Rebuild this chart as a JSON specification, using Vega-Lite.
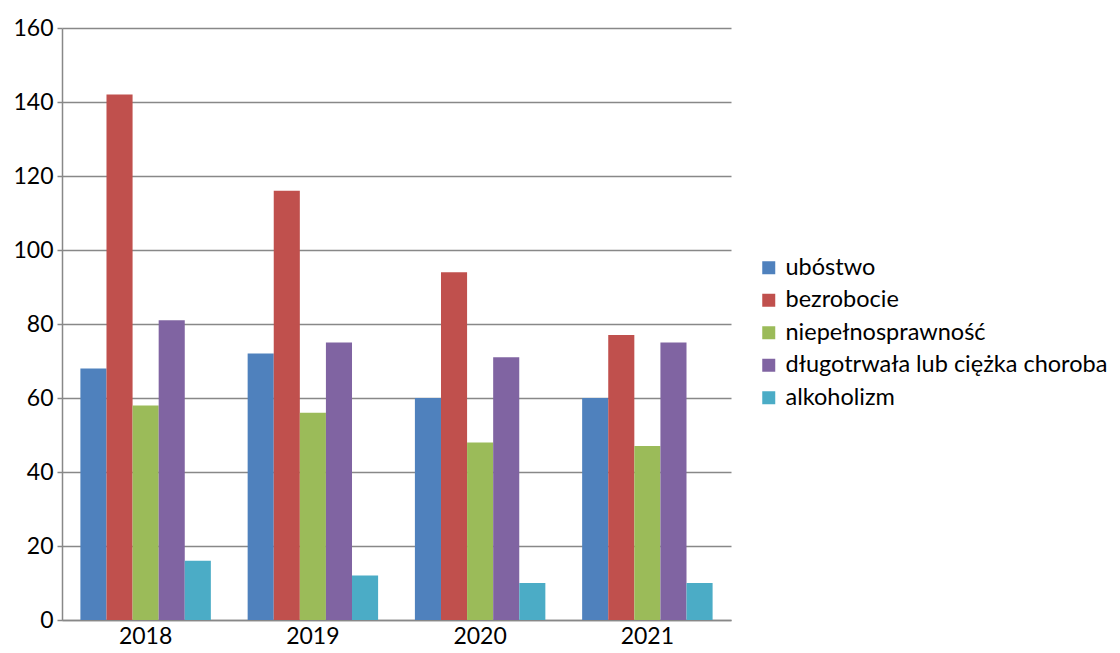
{
  "$schema": "https://vega.github.io/schema/vega-lite/v6.json",
  "width": 669,
  "height": 592,
  "autosize": "none",
  "padding": {"left": 62, "top": 28, "right": 389, "bottom": 33},
  "background": "white",
  "config": {
    "font": "Lato",
    "view": {"stroke": null}
  },
  "data": {
    "values": [
      {"rok": "2018", "kategoria": "ubóstwo", "wartosc": 68},
      {"rok": "2018", "kategoria": "bezrobocie", "wartosc": 142},
      {"rok": "2018", "kategoria": "niepełnosprawność", "wartosc": 58},
      {"rok": "2018", "kategoria": "długotrwała lub ciężka choroba", "wartosc": 81},
      {"rok": "2018", "kategoria": "alkoholizm", "wartosc": 16},
      {"rok": "2019", "kategoria": "ubóstwo", "wartosc": 72},
      {"rok": "2019", "kategoria": "bezrobocie", "wartosc": 116},
      {"rok": "2019", "kategoria": "niepełnosprawność", "wartosc": 56},
      {"rok": "2019", "kategoria": "długotrwała lub ciężka choroba", "wartosc": 75},
      {"rok": "2019", "kategoria": "alkoholizm", "wartosc": 12},
      {"rok": "2020", "kategoria": "ubóstwo", "wartosc": 60},
      {"rok": "2020", "kategoria": "bezrobocie", "wartosc": 94},
      {"rok": "2020", "kategoria": "niepełnosprawność", "wartosc": 48},
      {"rok": "2020", "kategoria": "długotrwała lub ciężka choroba", "wartosc": 71},
      {"rok": "2020", "kategoria": "alkoholizm", "wartosc": 10},
      {"rok": "2021", "kategoria": "ubóstwo", "wartosc": 60},
      {"rok": "2021", "kategoria": "bezrobocie", "wartosc": 77},
      {"rok": "2021", "kategoria": "niepełnosprawność", "wartosc": 47},
      {"rok": "2021", "kategoria": "długotrwała lub ciężka choroba", "wartosc": 75},
      {"rok": "2021", "kategoria": "alkoholizm", "wartosc": 10}
    ]
  },
  "mark": {"type": "bar"},
  "encoding": {
    "x": {
      "field": "rok",
      "type": "nominal",
      "scale": {"paddingInner": 0.22, "paddingOuter": 0.11},
      "axis": {
        "title": null,
        "labelAngle": 0,
        "labelFontSize": 23,
        "labelColor": "#000000",
        "labelPadding": 5,
        "ticks": false,
        "domainColor": "#888888",
        "domainWidth": 1.5
      }
    },
    "xOffset": {
      "field": "kategoria",
      "type": "nominal",
      "sort": ["ubóstwo", "bezrobocie", "niepełnosprawność", "długotrwała lub ciężka choroba", "alkoholizm"],
      "scale": {"paddingInner": 0, "paddingOuter": 0}
    },
    "y": {
      "field": "wartosc",
      "type": "quantitative",
      "scale": {"domain": [0, 160], "nice": false},
      "axis": {
        "title": null,
        "values": [0, 20, 40, 60, 80, 100, 120, 140, 160],
        "labelFontSize": 23,
        "labelColor": "#000000",
        "labelPadding": 4,
        "tickSize": 5,
        "tickColor": "#888888",
        "tickWidth": 1.5,
        "domainColor": "#888888",
        "domainWidth": 1.5,
        "gridColor": "#888888",
        "gridWidth": 1.5
      }
    },
    "color": {
      "field": "kategoria",
      "type": "nominal",
      "sort": ["ubóstwo", "bezrobocie", "niepełnosprawność", "długotrwała lub ciężka choroba", "alkoholizm"],
      "scale": {
        "domain": ["ubóstwo", "bezrobocie", "niepełnosprawność", "długotrwała lub ciężka choroba", "alkoholizm"],
        "range": ["#4F81BD", "#C0504D", "#9BBB59", "#8064A2", "#4BACC6"]
      },
      "legend": {
        "title": null,
        "orient": "none",
        "legendX": 695,
        "legendY": 228,
        "symbolType": "square",
        "symbolSize": 169,
        "symbolStrokeWidth": 0,
        "labelFontSize": 23.5,
        "labelColor": "#000000",
        "labelLimit": 450,
        "rowPadding": 7.5,
        "labelOffset": 5
      }
    }
  }
}
